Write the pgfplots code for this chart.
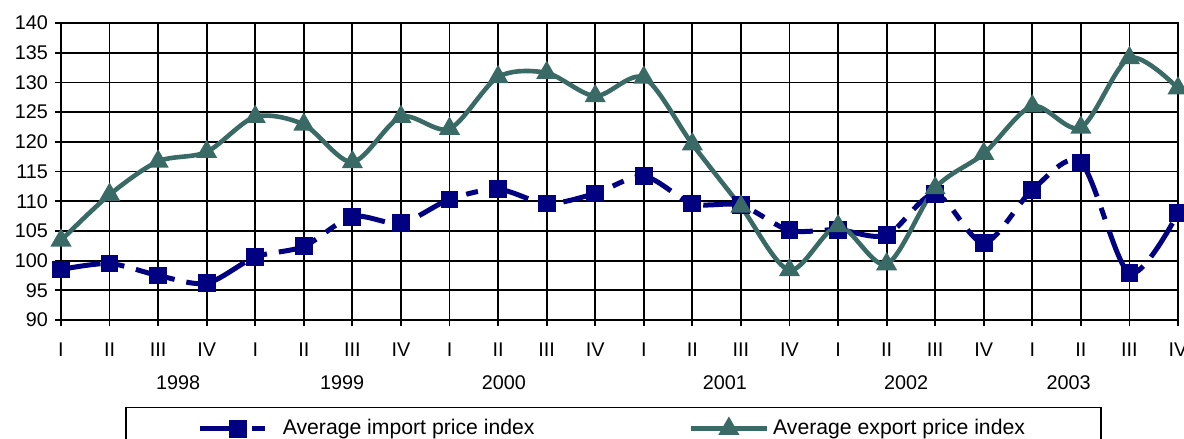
\documentclass[border=0pt]{standalone}
\usepackage{pgfplots}
\pgfplotsset{compat=1.18}
\usepackage{fontspec}
\setmainfont{Liberation Sans}
\definecolor{impcol}{RGB}{0,0,128}
\definecolor{expcol}{RGB}{58,106,101}
\begin{document}
\begin{tikzpicture}
\begin{axis}[
 scale only axis, width=558.5pt, height=148.5pt,
 xmin=0, xmax=23, ymin=90, ymax=140,
 xtick={0,...,23},
 xticklabels={I,II,III,IV,I,II,III,IV,I,II,III,IV,I,II,III,IV,I,II,III,IV,I,II,III,IV},
 ytick={90,95,...,140},
 grid=major, major grid style={black, line width=0.9pt},
 axis line style={black, line width=1.4pt},
 tick style={black, line width=0.9pt}, major tick length=3pt, tick align=outside, tick pos=left,
 tick label style={font=\fontsize{9.9}{11}\selectfont},
 xticklabel style={yshift=-5pt},
 /pgf/number format/assume math mode=true,
 clip=false,
 legend columns=2,
 legend style={draw=black, line width=0.8pt, at={(0.0573,-0.292)}, anchor=north west,
   inner xsep=36pt, inner ysep=4pt, font=\fontsize{10.6}{12}\selectfont,
   /tikz/every even column/.append style={column sep=75pt}},
 legend image code/.code={\draw[mark repeat=2,mark phase=2,#1] plot coordinates {(0pt,0pt)(19pt,0pt)(38pt,0pt)};},
]
\addplot[impcol, line width=2.5pt, smooth, dash pattern=on 20pt off 6pt on 6pt off 6pt,
  mark=square*, mark size=3.2pt, mark options={solid}] coordinates {
 (0,98.5) (1,99.5) (2,97.5) (3,96.2) (4,100.6) (5,102.4) (6,107.4) (7,106.3)
 (8,110.3) (9,112.0) (10,109.6) (11,111.3) (12,114.2) (13,109.6) (14,109.3) (15,105.1)
 (16,105.2) (17,104.3) (18,111.2) (19,103.0) (20,111.9) (21,116.5) (22,97.9) (23,108.0)};
\addlegendentry{Average import price index}
\addplot[expcol, line width=2.3pt, smooth,
  mark=triangle*, mark size=3.8pt] coordinates {
 (0,103.4) (1,111.1) (2,116.7) (3,118.3) (4,124.2) (5,122.9) (6,116.6) (7,124.2)
 (8,122.2) (9,130.9) (10,131.6) (11,127.7) (12,130.8) (13,119.6) (14,109.1) (15,98.4)
 (16,105.8) (17,99.4) (18,112.2) (19,118.0) (20,126.0) (21,122.4) (22,134.1) (23,129.0)};
\addlegendentry{Average export price index}
\foreach \yr/\xx in {1998/2.41,1999/5.79,2000/9.12,2001/13.67,2002/17.40,2003/20.75}{
  \edef\temp{\noexpand\node[font=\noexpand\fontsize{9.9}{11}\noexpand\selectfont] at (axis cs:\xx,90) [yshift=-31.5pt] {\yr};}
  \temp
}
\end{axis}
\pgfresetboundingbox
\path[use as bounding box] (-30.5pt,-59.5pt) rectangle (561.5pt,160pt);
\end{tikzpicture}
\end{document}
